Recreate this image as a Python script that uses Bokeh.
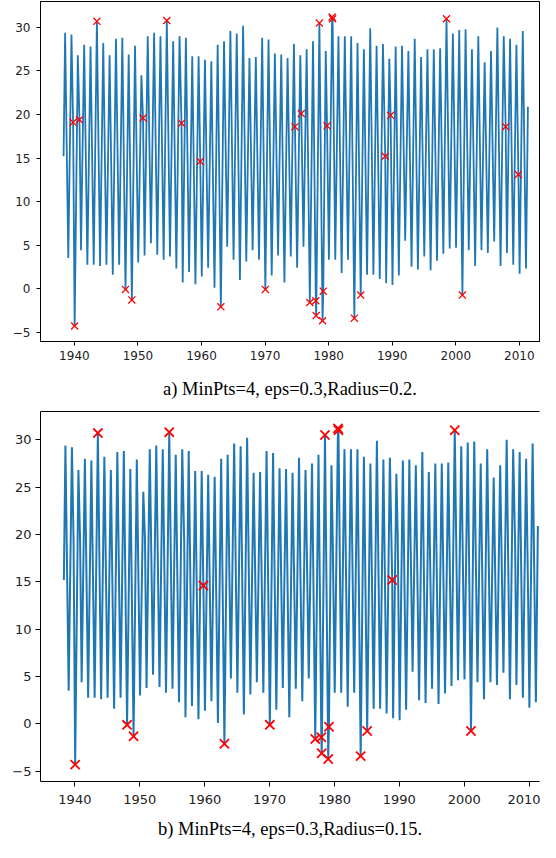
from bokeh.plotting import figure
from bokeh.models import Range1d, LinearAxis, FixedTicker
from bokeh.layouts import column
from bokeh.embed import file_html
from bokeh.resources import INLINE

# ---- data ----
start_year, start_value = 1938.3, 15.2
end_year, end_value = 2011.35, 20.9

peak_years = list(range(1938, 2011))
peak_values = [29.4, 29.2, 26.8, 28.0, 27.8, 30.7, 28.2, 26.8, 28.7, 28.8,
               26.9, 27.9, 24.5, 29.0, 29.4, 29.0, 30.8, 28.4, 29.0, 28.8,
               26.7, 26.7, 26.3, 26.1, 28.0, 28.4, 29.6, 29.3, 30.2, 26.5,
               26.6, 28.8, 28.6, 27.0, 26.9, 26.5, 28.1, 26.8, 27.5, 28.4,
               30.5, 27.3, 31.2, 29.0, 29.0, 29.0, 28.2, 27.5, 29.9, 27.9,
               28.1, 26.4, 27.8, 27.9, 27.3, 28.7, 26.6, 27.5, 27.5, 27.6,
               31.0, 29.3, 29.7, 29.8, 27.5, 29.0, 26.0, 27.3, 30.0, 29.0,
               28.7, 28.0, 29.6]
trough_years = list(range(1939, 2012))
trough_values = [3.5, -4.3, 4.4, 2.75, 2.75, 2.6, 2.75, 1.6, 2.75, -0.1,
                 -1.3, 3.0, 3.8, 5.2, 3.9, 3.3, 3.7, 2.3, 0.7, 1.9,
                 0.5, 1.4, 2.4, 0.1, -2.1, 4.8, 3.3, 1.0, 3.1, 4.4,
                 3.3, -0.1, 1.5, 3.8, 0.7, 3.7, 2.4, 4.8, -1.6, -3.1,
                 -3.7, 3.3, 3.3, 1.8, 3.3, -3.4, -0.75, 1.6, 1.6, 1.1,
                 0.6, 0.4, 1.5, 5.5, 2.5, 2.2, 3.7, 2.1, 3.2, 4.0,
                 4.6, 4.7, -0.75, 4.4, 2.6, 4.4, 4.1, 5.4, 2.6, 4.1,
                 2.75, 1.7, 2.3]
peak_month = 7
trough_month = 1
# other points of the series that were flagged
mid_years = [1939.8, 1940.8, 1950.8, 1956.85, 1959.8, 1974.7, 1975.7,
             1977.98, 1979.15, 1979.75, 1980.62, 1988.9, 1989.75, 2007.85, 2009.85]
mid_values = [19.1, 19.4, 19.6, 19.0, 14.6, 18.6, 20.1,
              -1.4, -0.3, 18.7, 31.0, 15.2, 19.9, 18.6, 13.1]

# outliers, panel a (Radius=0.2)
out_a_years = [1939.8, 1940.04, 1940.8, 1943.54, 1948.04, 1949.04, 1950.8, 1954.54,
               1956.85, 1959.8, 1963.04, 1970.04, 1974.7, 1975.7, 1977.04, 1977.98,
               1978.04, 1978.54, 1979.04, 1979.15, 1979.75, 1980.54, 1980.62, 1984.04,
               1985.04, 1988.9, 1989.75, 1998.54, 2001.04, 2007.85, 2009.85]
out_a_values = [19.1, -4.3, 19.4, 30.7, -0.1, -1.3, 19.6, 30.8,
                19.0, 14.6, -2.1, -0.1, 18.6, 20.1, -1.6, -1.4,
                -3.1, 30.5, -3.7, -0.3, 18.7, 31.2, 31.0, -3.4,
                -0.75, 15.2, 19.9, 31.0, -0.75, 18.6, 13.1]
# outliers, panel b (Radius=0.15)
out_b_years = [1940.04, 1943.54, 1948.04, 1949.04, 1954.54, 1959.8, 1963.04, 1970.04,
               1977.04, 1977.98, 1978.04, 1978.54, 1979.04, 1979.15, 1980.54, 1980.62,
               1984.04, 1985.04, 1988.9, 1998.54, 2001.04]
out_b_values = [-4.3, 30.7, -0.1, -1.3, 30.8, 14.6, -2.1, -0.1,
                -1.6, -1.4, -3.1, 30.5, -3.7, -0.3, 31.2, 31.0,
                -3.4, -0.75, 15.2, 31.0, -0.75]

x_ticks = [1940, 1950, 1960, 1970, 1980, 1990, 2000, 2010]
y_ticks = [-5, 0, 5, 10, 15, 20, 25, 30]
y_labels = {-5: "\u22125", 0: "0", 5: "5", 10: "10", 15: "15", 20: "20", 25: "25", 30: "30"}
caption_a = "a) MinPts=4, eps=0.3,Radius=0.2."
caption_b = "b) MinPts=4, eps=0.3,Radius=0.15."

# ---- build series ----
pts = [(start_year, start_value), (end_year, end_value)]
pts += [(y + (peak_month - 0.5) / 12, v) for y, v in zip(peak_years, peak_values)]
pts += [(y + (trough_month - 0.5) / 12, v) for y, v in zip(trough_years, trough_values)]
pts += list(zip(mid_years, mid_values))
pts.sort()
xs = [p[0] for p in pts]
ys = [p[1] for p in pts]

BLUE = "#1f77b4"


def style_axes(p, fs, tick, standoff_x, standoff_y, caption, cap_standoff):
    p.xgrid.visible = False
    p.ygrid.visible = False
    p.xaxis.ticker = FixedTicker(ticks=x_ticks)
    p.yaxis.ticker = FixedTicker(ticks=y_ticks)
    p.yaxis.major_label_overrides = y_labels
    for ax, so in ((p.xaxis, standoff_x), (p.yaxis, standoff_y)):
        ax.major_tick_out = tick
        ax.major_tick_in = 0
        ax.minor_tick_out = 0
        ax.minor_tick_in = 0
        ax.axis_line_color = "black"
        ax.axis_line_width = 1
        ax.major_tick_line_color = "black"
        ax.major_label_text_font = "DejaVu Sans"
        ax.major_label_text_font_size = fs
        ax.major_label_text_color = "#222222"
        ax.major_label_standoff = so
    # the figure caption sits under the x axis
    p.xaxis.axis_label = caption
    p.xaxis.axis_label_text_font = "Liberation Serif"
    p.xaxis.axis_label_text_font_size = "18.5px"
    p.xaxis.axis_label_text_font_style = "normal"
    p.xaxis.axis_label_text_color = "black"
    p.xaxis.axis_label_standoff = cap_standoff


# ---- panel a ----
p1 = figure(width=540, height=404, output_backend="svg", toolbar_location=None,
            x_range=Range1d(1934.67, 2013.17), y_range=Range1d(-6.08, 32.98),
            min_border_left=28, min_border_right=1, min_border_top=1, min_border_bottom=63)
p1.outline_line_color = "black"
p1.outline_line_width = 1
style_axes(p1, "12px", 4, 5, 6, caption_a, 16)
p1.line(xs, ys, line_color=BLUE, line_width=1.8)
p1.scatter(out_a_years, out_a_values, marker="x", size=10, line_color="red", line_width=1.3)

# ---- panel b ----
p2 = figure(width=540, height=438, output_backend="svg", toolbar_location=None,
            x_range=Range1d(1934.7, 2011.6), y_range=Range1d(-6.08, 32.98),
            min_border_left=40, min_border_right=0, min_border_top=7, min_border_bottom=61)
p2.outline_line_color = None
style_axes(p2, "13px", 5, 8, 4, caption_b, 12)
top_spine = LinearAxis(ticker=FixedTicker(ticks=[]), major_tick_out=0, major_tick_in=0,
                       minor_tick_out=0, minor_tick_in=0, axis_line_color="black",
                       major_label_text_font_size="0px")
p2.add_layout(top_spine, "above")
p2.line(xs, ys, line_color=BLUE, line_width=2.0)
p2.scatter(out_b_years, out_b_values, marker="x", size=13, line_color="red", line_width=1.8)

layout = column(p1, p2, spacing=0)
open("out.html", "w").write(file_html(layout, INLINE))
